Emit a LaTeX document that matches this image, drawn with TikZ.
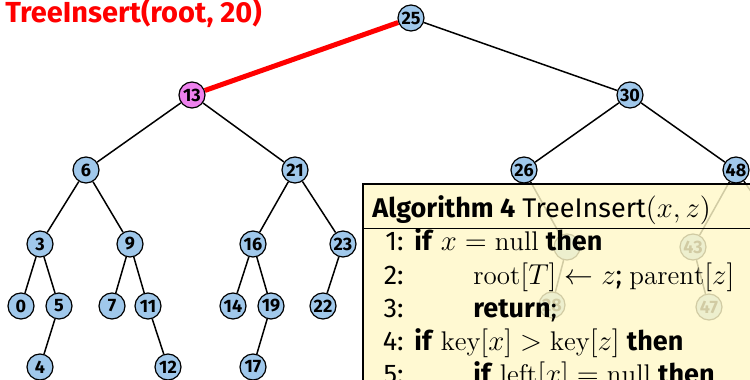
\documentclass[tikz,border=0pt]{standalone}
\usepackage{fontspec}
\setsansfont{Fira Sans}
\definecolor{keyblue}{RGB}{160,200,235}
\definecolor{keyviolet}{RGB}{238,130,238}
\definecolor{algoyellow}{RGB}{255,248,200}

\tikzset{
  key/.style={circle, draw, line width=0.6pt, fill=keyblue, minimum size=13pt,
    inner sep=0pt, font=\sffamily\bfseries\fontsize{9}{10}\selectfont},
  edge/.style={line width=0.75pt},
  algline/.style={anchor=base west, inner sep=0pt, font=\sffamily\fontsize{13.5}{15}\selectfont},
  algnum/.style={anchor=base east, inner sep=0pt, font=\sffamily\fontsize{13.5}{15}\selectfont}
}

\begin{document}
\begin{tikzpicture}[x=0.5pt, y=-0.5pt]
  \useasboundingbox (0,0) rectangle (750,380);
  \clip (0,0) rectangle (750,380);

  % tree
  \node[key] (k25) at (411,18) {25};
  \node[key, fill=keyviolet] (k13) at (192,95) {13};
  \node[key] (k30) at (630,95) {30};
  \node[key] (k6) at (86,170) {6};
  \node[key] (k21) at (295,170) {21};
  \node[key] (k26) at (524,170) {26};
  \node[key] (k48) at (736,170) {48};
  \node[key] (k3) at (40,244) {3};
  \node[key] (k9) at (130,244) {9};
  \node[key] (k16) at (253,244) {16};
  \node[key] (k23) at (343,244) {23};
  \node[key] (k29) at (567,247) {};
  \node[key] (k43) at (693,247) {43};
  \node[key] (k50) at (790,247) {};
  \node[key] (k0) at (21,306) {0};
  \node[key] (k5) at (59,306) {5};
  \node[key] (k7) at (112,306) {7};
  \node[key] (k11) at (148,306) {11};
  \node[key] (k14) at (233,306) {14};
  \node[key] (k19) at (271,306) {19};
  \node[key] (k22) at (323,306) {22};
  \node[key] (k28) at (552,305) {28};
  \node[key] (k47) at (709,307) {47};
  \node[key] (k4) at (40,367) {4};
  \node[key] (k12) at (168,367) {12};
  \node[key] (k17) at (253,367) {17};

  \draw[red, line width=2.5pt] (k25) -- (k13);
  \foreach \a/\b in {25/30, 13/6, 13/21, 30/26, 30/48, 6/3, 6/9, 21/16, 21/23,
      26/29, 48/43, 48/50, 3/0, 3/5, 9/7, 9/11, 16/14, 16/19, 23/22,
      29/28, 43/47, 5/4, 11/12, 19/17}
    \draw[edge] (k\a) -- (k\b);

  \node[anchor=base west, inner sep=0pt, red,
    font=\sffamily\bfseries\fontsize{14.5}{16}\selectfont] (call) at (5,23) {TreeInsert(root, 20)};

  % algorithm box
  \draw[line width=0.75pt, fill=algoyellow, fill opacity=0.82] (363,184) rectangle (770,400);
  \draw[line width=0.5pt] (363,228) -- (770,228);
  \node[algline] (title) at (372,217) {\textbf{Algorithm 4} TreeInsert$(x,z)$};
  \node[algnum] (n1) at (404,250) {1:};
  \node[algnum] (n2) at (404,284) {2:};
  \node[algnum] (n3) at (404,317) {3:};
  \node[algnum] (n4) at (404,350) {4:};
  \node[algnum] (n5) at (404,383) {5:};
  \node[algline] (l1) at (414,250) {\textbf{if} $x = \mathrm{null}$ \textbf{then}};
  \node[algline] (l2) at (473,284) {$\mathrm{root}[T] \gets z$; $\mathrm{parent}[z]$};
  \node[algline] (l3) at (473,317) {\textbf{return};};
  \node[algline] (l4) at (414,350) {\textbf{if} $\mathrm{key}[x] > \mathrm{key}[z]$ \textbf{then}};
  \node[algline] (l5) at (473,383) {\textbf{if} $\mathrm{left}[x] = \mathrm{null}$ \textbf{then}};
\end{tikzpicture}
\end{document}
